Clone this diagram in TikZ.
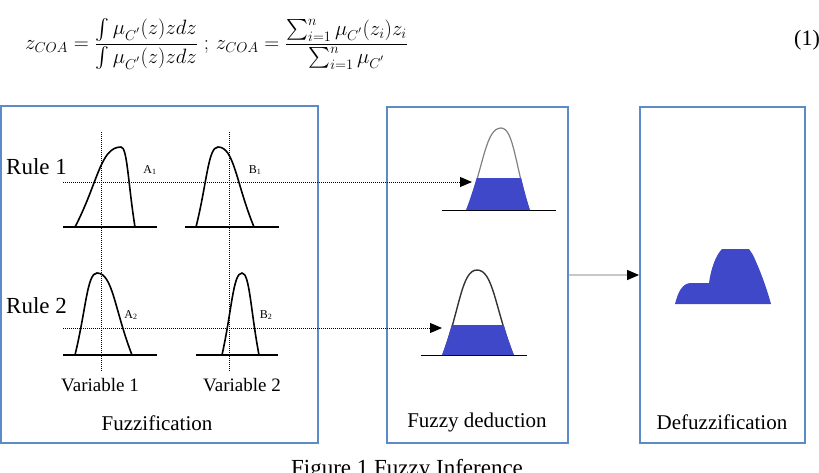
\documentclass[tikz,border=0pt]{standalone}
\usepackage{amsmath}
\usepackage{fontspec}
\setmainfont{Liberation Serif}
\usetikzlibrary{arrows.meta}
\definecolor{panelblue}{RGB}{92,140,200}
\definecolor{fillblue}{RGB}{62,72,200}
\newcommand\mybell[5]{(#1,#4) .. controls ({#1+0.5*(#2-#1)},{#4-0.55*(#4-#5)}) and ({#2-0.45*(#2-#1)},#5) .. (#2,#5) .. controls ({#2+0.45*(#3-#2)},#5) and ({#3-0.5*(#3-#2)},{#4-0.55*(#4-#5)}) .. (#3,#4)}
\begin{document}
\begin{tikzpicture}[x=1pt,y=-1pt,
  panel/.style={draw=panelblue,line width=1.8pt,inner sep=0pt},
  mf/.style={line width=1.6pt},
  baseline line/.style={line width=1.4pt},
  thinbase/.style={line width=1pt},
  guide/.style={dash pattern=on 1pt off 1pt,line width=0.9pt},
  tipA/.style={-{Triangle[length=12pt,width=10pt,color=black]}},
  rulelbl/.style={font=\fontsize{23}{26}\selectfont,inner sep=0pt},
  varlbl/.style={font=\fontsize{19}{22}\selectfont,inner sep=0pt},
  title/.style={font=\fontsize{21}{24}\selectfont,inner sep=0pt},
  setlbl/.style={font=\fontsize{12}{14}\selectfont,inner sep=0pt}]
\useasboundingbox (0,0) rectangle (819,472);
\clip (0,0) rectangle (819,472);

% formula
\node[anchor=west,inner sep=0pt,font=\fontsize{20.5}{25}\selectfont] (eq) at (25,44)
 {$\displaystyle z_{COA}=\frac{\int\mu_{C^{'}}(z)zdz}{\int\mu_{C^{'}}(z)zdz}\;;\,z_{COA}=\frac{\sum_{i=1}^{n}\mu_{C^{'}}(z_i)z_i}{\sum_{i=1}^{n}\mu_{C^{'}}}$};
\node[inner sep=0pt,font=\fontsize{22}{26}\selectfont] (eqnum) at (807,40) {(1)};

% panels
\node[panel,minimum width=317pt,minimum height=337pt] (fuzz) at (159.5,274.5) {};
\node[panel,minimum width=181pt,minimum height=336pt] (deduct) at (477.5,275) {};
\node[panel,minimum width=165pt,minimum height=336pt] (defuzz) at (722.5,275) {};

% guides
\draw[guide] (101,132) -- (101,372);
\draw[guide] (229,132) -- (229,372);
\coordinate (r1s) at (63,182);
\coordinate (r1e) at (472,182);
\coordinate (r2s) at (63,328);
\coordinate (r2e) at (442,328);
\draw[guide,tipA] (r1s) -- (r1e);
\draw[guide,tipA] (r2s) -- (r2e);

% fuzzification membership functions
\draw[baseline line] (63,227) -- (157,227);
\draw[baseline line] (185,227) -- (279,227);
\draw[baseline line] (63,355) -- (157,355);
\draw[baseline line] (196,355) -- (278,355);
\draw[mf] \mybell{75}{121}{135}{227}{147};
\draw[mf] \mybell{196}{218}{254}{227}{147};
\draw[mf] \mybell{75}{97}{132}{355}{273};
\draw[mf] \mybell{222}{242}{259}{355}{273};

\node[rulelbl,anchor=west] (rule1) at (6,167) {Rule 1};
\node[rulelbl,anchor=west] (rule2) at (6,306) {Rule 2};
\node[setlbl] (a1) at (150,170) {A\textsubscript{1}};
\node[setlbl] (b1) at (255,170) {B\textsubscript{1}};
\node[setlbl] (a2) at (131,315) {A\textsubscript{2}};
\node[setlbl] (b2) at (266,315) {B\textsubscript{2}};
\node[varlbl] (v1) at (100,385) {Variable 1};
\node[varlbl] (v2) at (242,385) {Variable 2};
\node[title] (t1) at (157,423) {Fuzzification};

% fuzzy deduction
\draw[thinbase] (442,210) -- (556,210);
\draw[thinbase] (421,355) -- (527,355);
\draw[gray,line width=1.2pt] \mybell{467}{501}{529}{210}{128};
\begin{scope}
  \clip (400,178) rectangle (560,211);
  \fill[fillblue] \mybell{466}{501}{530}{210}{128} -- cycle;
\end{scope}
\draw[black!80,line width=1.4pt] \mybell{443}{477}{513}{355}{270};
\begin{scope}
  \clip (400,325) rectangle (560,356);
  \fill[fillblue] \mybell{442}{477}{514}{355}{270} -- cycle;
\end{scope}
\node[title] (t2) at (477,422) {Fuzzy deduction};

% connector
\draw[black!22,line width=1.3pt,tipA] (deduct.east) -- (defuzz.west);

% defuzzification
\fill[fillblue] (675,304) .. controls (678,292) and (682,284) .. (690,283) -- (709,283)
  .. controls (711,268) and (716,255) .. (722,249) -- (749,249) -- (753,255)
  .. controls (760,270) and (766,286) .. (771,304) -- cycle;
\node[title] (t3) at (722,422) {Defuzzification};

% caption
\node[inner sep=0pt,anchor=base,font=\fontsize{23}{26}\selectfont] (cap) at (407,475) {Figure 1 Fuzzy Inference};
\end{tikzpicture}
\end{document}
